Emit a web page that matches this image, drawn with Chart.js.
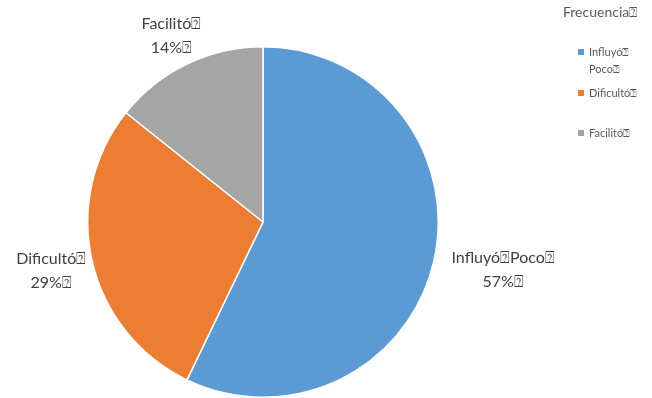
<!DOCTYPE html>
<html>
<head>
<meta charset="utf-8">
<script src="https://cdn.jsdelivr.net/npm/chart.js@4.4.1/dist/chart.umd.min.js"></script>
<style>
  html, body { margin: 0; padding: 0; background: #fff; }
  #wrap { width: 652px; height: 398px; position: relative; }
</style>
</head>
<body>
<div id="wrap"><canvas id="grafico"></canvas></div>
<script>
const categorias = ['Influyó⍰Poco⍰', 'Dificultó⍰', 'Facilitó⍰'];
const frecuencia = [4, 2, 1];
const colores = ['#5B9BD5', '#ED7D31', '#A5A5A5'];
const tituloLeyenda = 'Frecuencia⍰';

const fuente = 'Lato, "Open Sans", sans-serif';

// etiquetas fuera del pastel: distancia extra desde el borde y ajuste fino
const distEtiqueta = [66, 42, 36];
const ajusteEtiqueta = [[5, -6], [0, 1], [0, 4]];

const etiquetasPlugin = {
    id: 'etiquetas',
    afterDraw(chart) {
        const ctx = chart.ctx;
        const meta = chart.getDatasetMeta(0);
        const total = frecuencia.reduce((a, b) => a + b, 0);
        ctx.save();
        ctx.fillStyle = '#404040';
        ctx.font = '16px ' + fuente;
        ctx.textAlign = 'center';
        ctx.textBaseline = 'middle';
        meta.data.forEach((arc, i) => {
            const p = arc.getProps(['x', 'y', 'startAngle', 'endAngle', 'outerRadius'], true);
            const medio = (p.startAngle + p.endAngle) / 2;
            const r = p.outerRadius + distEtiqueta[i];
            const cx = p.x + Math.cos(medio) * r + ajusteEtiqueta[i][0];
            const cy = p.y + Math.sin(medio) * r + ajusteEtiqueta[i][1];
            const pct = Math.round(frecuencia[i] / total * 100);
            ctx.fillText(categorias[i], cx, cy - 12);
            ctx.fillText(pct + '%⍰', cx, cy + 12);
        });

        // leyenda
        ctx.fillStyle = '#595959';
        ctx.textAlign = 'left';
        ctx.font = '14px ' + fuente;
        ctx.fillText(tituloLeyenda, 563, 12);
        ctx.font = '11px ' + fuente;
        const filas = [52, 93, 133];
        categorias.forEach((c, i) => {
            ctx.fillStyle = colores[i];
            ctx.fillRect(578, filas[i] - 3, 6, 6);
            ctx.fillStyle = '#595959';
            const lineas = c.match(/[^⍰]+⍰/g) || [c];
            lineas.forEach((l, j) => ctx.fillText(l, 589, filas[i] + j * 17));
        });
        ctx.restore();
    }
};

new Chart(document.getElementById('grafico'), {
    type: 'pie',
    data: {
        labels: categorias,
        datasets: [{
            data: frecuencia,
            backgroundColor: colores,
            borderColor: '#ffffff',
            borderWidth: 1.5
        }]
    },
    options: {
        responsive: true,
        maintainAspectRatio: false,
        animation: false,
        layout: { padding: { left: 87, right: 213, top: 46, bottom: 0 } },
        plugins: {
            legend: { display: false },
            tooltip: { enabled: false }
        }
    },
    plugins: [etiquetasPlugin]
});
</script>
</body>
</html>
